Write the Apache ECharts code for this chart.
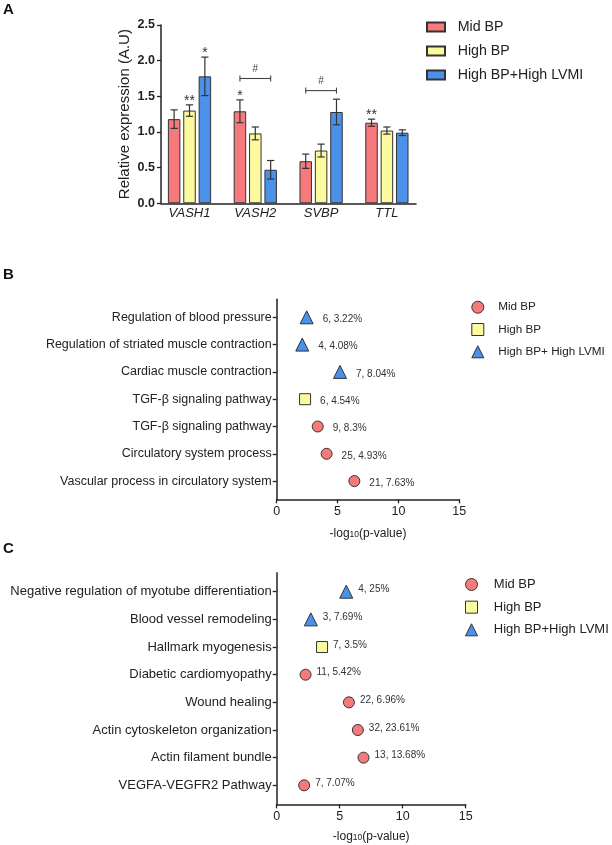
<!DOCTYPE html>
<html><head><meta charset="utf-8">
<script src="https://cdn.jsdelivr.net/npm/echarts@6/dist/echarts.min.js"></script>
<style>html,body{margin:0;padding:0;background:#fff}#c{width:612px;height:845px}</style>
</head><body><div id="c"></div>
<script>
// ---------- Panel A data ----------
const barCategories = ['VASH1', 'VASH2', 'SVBP', 'TTL'];
const groupNames = ['Mid BP', 'High BP', 'High BP+High LVMI'];
const midBP = [1.18, 1.29, 0.59, 1.13];
const midBPErr = [0.13, 0.16, 0.10, 0.05];
const highBP = [1.30, 0.98, 0.74, 1.02];
const highBPErr = [0.08, 0.09, 0.09, 0.05];
const highLVMI = [1.78, 0.47, 1.28, 0.99];
const highLVMIErr = [0.27, 0.13, 0.18, 0.04];
const sigMarks = [['VASH1', 1, '**'], ['VASH1', 2, '*'], ['VASH2', 0, '*'], ['TTL', 0, '**']];
const brackets = [['VASH2', 0, 2, 1.75, '#'], ['SVBP', 0, 2, 1.58, '#']];
const yTicksA = [0, 0.5, 1.0, 1.5, 2.0, 2.5];

// ---------- Panel B data ----------
const bTerms = ['Regulation of blood pressure', 'Regulation of striated muscle contraction', 'Cardiac muscle contraction',
  'TGF-\u03b2 signaling pathway', 'TGF-\u03b2 signaling pathway', 'Circulatory system process', 'Vascular process in circulatory system'];
const bGroup = [2, 2, 2, 1, 0, 0, 0];
const bValues = [2.46, 2.10, 5.20, 2.33, 3.37, 4.10, 6.38];
const bLabels = ['6, 3.22%', '4, 4.08%', '7, 8.04%', '6, 4.54%', '9, 8.3%', '25, 4.93%', '21, 7.63%'];
const bLegendNames = ['Mid BP', 'High BP', 'High BP+ High LVMI'];

// ---------- Panel C data ----------
const cTerms = ['Negative regulation of myotube differentiation', 'Blood vessel remodeling', 'Hallmark myogenesis',
  'Diabetic cardiomyopathy', 'Wound healing', 'Actin cytoskeleton organization', 'Actin filament bundle', 'VEGFA-VEGFR2 Pathway'];
const cGroup = [2, 2, 1, 0, 0, 0, 0, 0];
const cValues = [5.52, 2.71, 3.60, 2.29, 5.73, 6.44, 6.89, 2.18];
const cLabels = ['4, 25%', '3, 7.69%', '7, 3.5%', '11, 5.42%', '22, 6.96%', '32, 23.61%', '13, 13.68%', '7, 7.07%'];
const cLegendNames = ['Mid BP', 'High BP', 'High BP+High LVMI'];
const xTicksBC = [0, 5, 10, 15];

// ---------- styles ----------
const COLORS = ['#F6797C', '#FCFA9E', '#4A91EA'];
const SYMBOLS = ['circle', 'rect', 'triangle'];
const SYMBOL_SIZES = [11, 11, 13];
const INK = '#222';
const FONT = 'Liberation Sans, Arial, sans-serif';
const BAR_W = 12.5, BAR_GAP = 0.23, PITCH = BAR_W * (1 + BAR_GAP);

const means = [midBP, highBP, highLVMI];
const errs = [midBPErr, highBPErr, highLVMIErr];

const chart = echarts.init(document.getElementById('c'), null, { renderer: 'canvas' });

const axisLineStyle = { color: INK, width: 1.5 };

const A_TOP = 25, A_H = 178.3;
const B_LEFT = 276.7, B_W = 182.6, B_TOP = 299.3, B_H = 200, B_BAND = 27.3;
const C_LEFT = 276.7, C_W = 189, C_TOP = 572.7, C_H = 231.6, C_BAND = 27.66;

const grids = [
  { left: 161, top: A_TOP, width: 255, height: A_H },
  { left: 156.6, top: A_TOP, width: 263.2, height: A_H },
  { left: B_LEFT, top: B_TOP, width: B_W, height: B_H },
  { left: B_LEFT, top: 317.3 - B_BAND / 2, width: B_W, height: B_BAND * bTerms.length },
  { left: C_LEFT, top: C_TOP, width: C_W, height: C_H },
  { left: C_LEFT, top: 591.7 - C_BAND / 2, width: C_W, height: C_BAND * cTerms.length }
].map(g => Object.assign({ outerBoundsMode: 'none', containLabel: false }, g));

const hidden = { show: false };
const subRich = { sub: { fontSize: 8.5, verticalAlign: 'bottom', fontFamily: FONT, color: INK } };

const xAxes = [
  { gridIndex: 0, type: 'value', min: 0, max: 1, axisLine: { show: true, lineStyle: axisLineStyle },
    axisTick: hidden, axisLabel: hidden, splitLine: hidden },
  { gridIndex: 1, type: 'category', data: barCategories, axisLine: hidden, axisTick: hidden, splitLine: hidden,
    axisLabel: { fontStyle: 'italic', fontSize: 13, color: INK, margin: 4, fontFamily: FONT } },
  { gridIndex: 2, type: 'value', min: xTicksBC[0], max: xTicksBC[xTicksBC.length - 1], interval: xTicksBC[1] - xTicksBC[0],
    axisLine: { show: true, lineStyle: axisLineStyle }, axisTick: { show: true, length: 4, lineStyle: { color: INK, width: 1.3 } },
    axisLabel: { fontSize: 12.5, color: INK, margin: 6, fontFamily: FONT }, splitLine: hidden,
    name: '-log{sub|10}(p-value)', nameLocation: 'middle', nameGap: 28,
    nameTextStyle: { fontSize: 12, color: INK, fontFamily: FONT, rich: subRich } },
  { gridIndex: 3, type: 'value', min: xTicksBC[0], max: xTicksBC[xTicksBC.length - 1], show: false },
  { gridIndex: 4, type: 'value', min: xTicksBC[0], max: xTicksBC[xTicksBC.length - 1], interval: xTicksBC[1] - xTicksBC[0],
    axisLine: { show: true, lineStyle: axisLineStyle }, axisTick: { show: true, length: 4, lineStyle: { color: INK, width: 1.3 } },
    axisLabel: { fontSize: 12.5, color: INK, margin: 6, fontFamily: FONT }, splitLine: hidden,
    name: '-log{sub|10}(p-value)', nameLocation: 'middle', nameGap: 26,
    nameTextStyle: { fontSize: 12, color: INK, fontFamily: FONT, rich: subRich } },
  { gridIndex: 5, type: 'value', min: xTicksBC[0], max: xTicksBC[xTicksBC.length - 1], show: false }
];

const yAxes = [
  { gridIndex: 0, type: 'value', min: yTicksA[0], max: yTicksA[yTicksA.length - 1], interval: yTicksA[1] - yTicksA[0],
    axisLine: { show: true, lineStyle: axisLineStyle }, axisTick: { show: true, length: 4, lineStyle: { color: INK, width: 1.3 } },
    axisLabel: { fontSize: 12.5, fontWeight: 'bold', color: INK, margin: 6, fontFamily: FONT, formatter: v => v.toFixed(1) },
    splitLine: hidden, name: 'Relative expression (A.U)', nameLocation: 'middle', nameGap: 29,
    nameTextStyle: { fontSize: 15, color: INK, fontFamily: FONT } },
  { gridIndex: 1, type: 'value', min: yTicksA[0], max: yTicksA[yTicksA.length - 1], show: false },
  { gridIndex: 2, type: 'value', min: 0, max: 1, axisLine: { show: true, lineStyle: axisLineStyle },
    axisTick: hidden, axisLabel: hidden, splitLine: hidden },
  { gridIndex: 3, type: 'category', data: bTerms, inverse: true, axisLine: hidden,
    axisTick: { show: true, alignWithLabel: true, length: 4, lineStyle: { color: INK, width: 1.3 } },
    axisLabel: { fontSize: 12.5, color: INK, margin: 5, fontFamily: FONT }, splitLine: hidden },
  { gridIndex: 4, type: 'value', min: 0, max: 1, axisLine: { show: true, lineStyle: axisLineStyle },
    axisTick: hidden, axisLabel: hidden, splitLine: hidden },
  { gridIndex: 5, type: 'category', data: cTerms, inverse: true, axisLine: hidden,
    axisTick: { show: true, alignWithLabel: true, length: 4, lineStyle: { color: INK, width: 1.3 } },
    axisLabel: { fontSize: 13, color: INK, margin: 5, fontFamily: FONT }, splitLine: hidden }
];

const series = [];
groupNames.forEach((name, g) => {
  series.push({
    type: 'bar', name, xAxisIndex: 1, yAxisIndex: 1, data: means[g],
    barWidth: BAR_W, barGap: (BAR_GAP * 100) + '%',
    itemStyle: { color: COLORS[g], borderColor: '#333', borderWidth: 1 }
  });
});
const errData = [];
groupNames.forEach((n, g) => barCategories.forEach((c, i) => errData.push([i, g, means[g][i], errs[g][i]])));
const errStyle = { stroke: '#333', lineWidth: 1.2 };
series.push({
  type: 'custom', xAxisIndex: 1, yAxisIndex: 1, data: errData, silent: true, z: 5,
  renderItem: (params, api) => {
    const cat = api.value(0), g = api.value(1), m = api.value(2), e = api.value(3);
    const off = (g - 1) * PITCH;
    const t = api.coord([cat, m + e]), b = api.coord([cat, m - e]);
    const x = t[0] + off, cap = 3.6;
    return { type: 'group', children: [
      { type: 'line', shape: { x1: x, y1: t[1], x2: x, y2: b[1] }, style: errStyle },
      { type: 'line', shape: { x1: x - cap, y1: t[1], x2: x + cap, y2: t[1] }, style: errStyle },
      { type: 'line', shape: { x1: x - cap, y1: b[1], x2: x + cap, y2: b[1] }, style: errStyle }
    ] };
  }
});
series.push({
  type: 'custom', xAxisIndex: 1, yAxisIndex: 1, silent: true, z: 6,
  data: sigMarks.map(s => [barCategories.indexOf(s[0]), s[1]]),
  renderItem: (params, api) => {
    const s = sigMarks[params.dataIndex];
    const i = barCategories.indexOf(s[0]), g = s[1];
    const p = api.coord([i, means[g][i] + errs[g][i]]);
    return { type: 'text', style: { text: s[2], x: p[0] + (g - 1) * PITCH, y: p[1] - 4, align: 'center',
      verticalAlign: 'middle', fontSize: 14, fontFamily: FONT, fill: '#333' } };
  }
});
series.push({
  type: 'custom', xAxisIndex: 1, yAxisIndex: 1, silent: true, z: 6,
  data: brackets.map(b => [barCategories.indexOf(b[0]), b[3]]),
  renderItem: (params, api) => {
    const b = brackets[params.dataIndex];
    const i = barCategories.indexOf(b[0]);
    const p = api.coord([i, b[3]]);
    const x1 = p[0] + (b[1] - 1) * PITCH, x2 = p[0] + (b[2] - 1) * PITCH, y = p[1];
    const st = { stroke: '#444', lineWidth: 1.1 };
    return { type: 'group', children: [
      { type: 'line', shape: { x1, y1: y, x2, y2: y }, style: st },
      { type: 'line', shape: { x1, y1: y - 3, x2: x1, y2: y + 3 }, style: st },
      { type: 'line', shape: { x1: x2, y1: y - 3, x2, y2: y + 3 }, style: st },
      { type: 'text', style: { text: b[4], x: (x1 + x2) / 2, y: y - 9, align: 'center', verticalAlign: 'middle',
        fontSize: 10, fontFamily: FONT, fill: '#444' } }
    ] };
  }
});

function dotSeries(terms, groups, values, labels, names, xi, yi, labelDist, labelOffY) {
  names.forEach((name, g) => {
    const data = [];
    terms.forEach((t, i) => { if (groups[i] === g) data.push([values[i], i]); });
    series.push({
      type: 'scatter', name, xAxisIndex: xi, yAxisIndex: yi, data,
      symbol: SYMBOLS[g], symbolSize: SYMBOL_SIZES[g],
      itemStyle: { color: COLORS[g], borderColor: '#333', borderWidth: 1, opacity: 1 },
      label: { show: true, position: 'right', distance: labelDist, offset: [0, labelOffY], fontSize: 10,
        color: '#333', fontFamily: FONT, formatter: p => labels[p.value[1]] }
    });
  });
}
dotSeries(bTerms, bGroup, bValues, bLabels, bLegendNames, 3, 3, 9, 2);
dotSeries(cTerms, cGroup, cValues, cLabels, cLegendNames, 5, 5, 5, -2);

function dotLegend(names, left, top, gap, fontSize, padLeft) {
  return {
    orient: 'vertical', left, top, padding: 0, itemWidth: 12, itemHeight: 12, itemGap: gap, selectedMode: false,
    data: names.map((n, g) => ({ name: n, icon: SYMBOLS[g],
      itemStyle: { color: COLORS[g], borderColor: '#333', borderWidth: 1 } })),
    textStyle: { fontSize, color: INK, fontFamily: FONT, lineHeight: 12, padding: [0, 0, 0, padLeft] }
  };
}

const option = {
  animation: false,
  backgroundColor: '#fff',
  textStyle: { fontFamily: FONT },
  title: [
    { text: 'A', left: 3, top: 2, padding: 0, textStyle: { fontSize: 15, fontWeight: 'bold', color: '#111', fontFamily: FONT } },
    { text: 'B', left: 3, top: 267, padding: 0, textStyle: { fontSize: 15, fontWeight: 'bold', color: '#111', fontFamily: FONT } },
    { text: 'C', left: 3, top: 541, padding: 0, textStyle: { fontSize: 15, fontWeight: 'bold', color: '#111', fontFamily: FONT } }
  ],
  legend: [
    { orient: 'vertical', left: 426, top: 19, padding: 0, icon: 'rect', itemWidth: 18, itemHeight: 9, itemGap: 8, selectedMode: false,
      data: groupNames, textStyle: { fontSize: 14.2, color: INK, fontFamily: FONT, lineHeight: 16, padding: [0, 0, 0, 7.7] } },
    dotLegend(bLegendNames, 471.3, 300.7, 9.3, 11.7, 9.4),
    dotLegend(cLegendNames, 465, 578, 9.65, 13, 11.3)
  ],
  grid: grids,
  xAxis: xAxes,
  yAxis: yAxes,
  series
};
chart.setOption(option);
</script>
</body></html>
